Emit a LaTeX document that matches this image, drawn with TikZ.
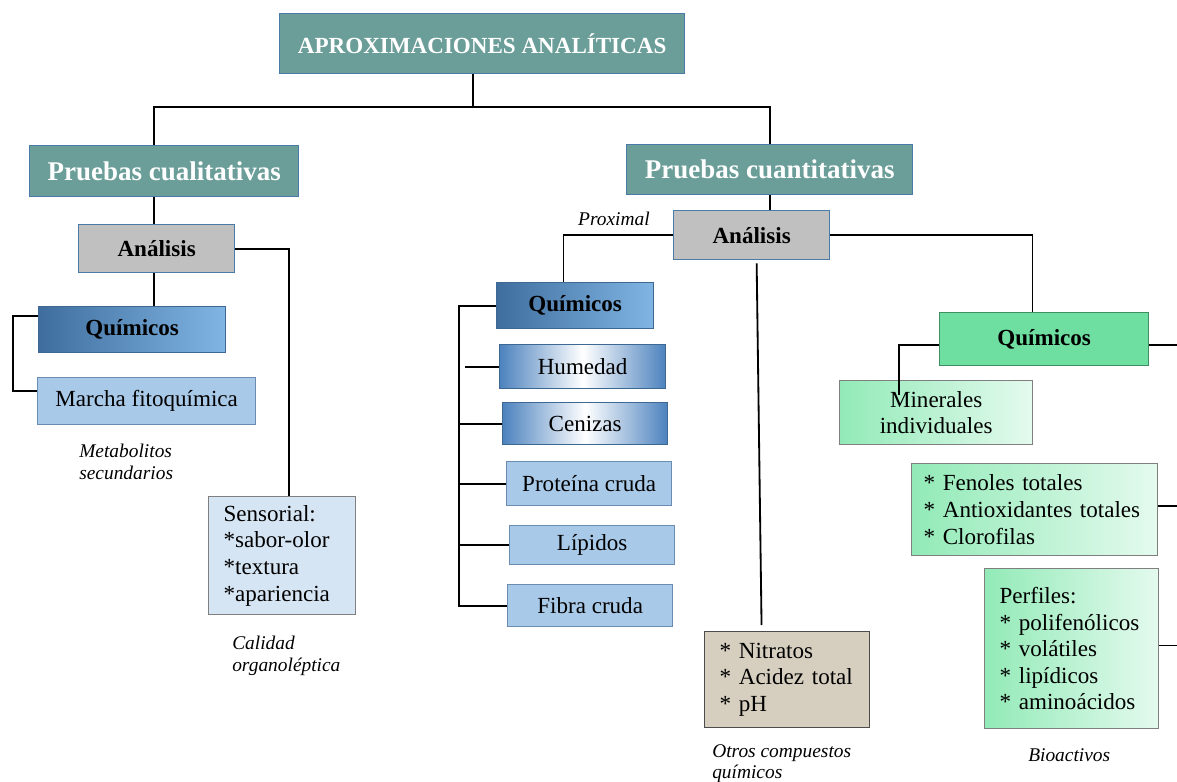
\documentclass[tikz,border=0pt]{standalone}
\usepackage{fontspec}
\setmainfont{Liberation Serif}
\usetikzlibrary{positioning}

\definecolor{tealhead}{HTML}{6B9E98}
\definecolor{boxblue}{HTML}{4A7BA8}
\definecolor{graybox}{HTML}{C0C0C0}
\definecolor{quimdark}{HTML}{3F6E9E}
\definecolor{quimlight}{HTML}{80B5E4}
\definecolor{quimborder}{HTML}{3D6893}
\definecolor{edgeblue}{HTML}{4C82BE}
\definecolor{paleblue}{HTML}{A9C9E8}
\definecolor{paleborder}{HTML}{6A8CB0}
\definecolor{sensblue}{HTML}{D6E5F4}
\definecolor{grayborder}{HTML}{7F7F7F}
\definecolor{tanbox}{HTML}{D6CFBF}
\definecolor{greenbox}{HTML}{6EDFA0}
\definecolor{greenborder}{HTML}{3F8F63}
\definecolor{mintdark}{HTML}{92EAB7}
\definecolor{mintlight}{HTML}{E4FAEE}

\begin{document}
\begin{tikzpicture}[
    x=0.025cm, y=-0.025cm,
    box/.style={rectangle, draw=boxblue, line width=0.9pt, inner sep=0pt, align=center, anchor=north west, font=\fontsize{16.4}{18.9}\selectfont},
    header/.style={box, fill=tealhead, text=white, font=\bfseries\fontsize{19.2}{22}\selectfont},
    analisis/.style={box, fill=graybox, font=\bfseries\fontsize{16.4}{18.9}\selectfont},
    quimblue/.style={box, draw=quimborder, left color=quimdark, right color=quimlight, font=\bfseries\fontsize{16.4}{18.9}\selectfont},
    gradblue/.style={box, draw=quimborder, left color=edgeblue, right color=edgeblue, middle color=white},
    plainbox/.style={box, draw=paleborder, fill=paleblue},
    listbox/.style={box, align=left, inner xsep=0.375cm},
    greenlist/.style={listbox, draw=grayborder, left color=mintdark, right color=mintlight},
    note/.style={inner sep=0pt, align=left, font=\itshape\fontsize{13.8}{15.4}\selectfont},
    link/.style={draw=black, line width=1.3pt}
]
\useasboundingbox (0,0) rectangle (1177,782);

% Title and headers
\node[header, font=\bfseries\fontsize{16.4}{19}\selectfont, minimum width=10.125cm, minimum height=1.5cm] (title) at (279,13) {APROXIMACIONES ANALÍTICAS};
\node[header, minimum width=6.725cm, minimum height=1.275cm] (qual) at (29,145) {Pruebas cualitativas};
\node[header, minimum width=7.15cm, minimum height=1.25cm] (quant) at (626,144) {Pruebas cuantitativas};

% Qualitative branch
\node[analisis, minimum width=3.9cm, minimum height=1.2cm] (anaL) at (78,224) {Análisis};
\node[quimblue, minimum width=4.675cm, minimum height=1.15cm] (quimL) at (38,306) {Químicos};
\node[plainbox, minimum width=5.45cm, minimum height=1.175cm] (marcha) at (37,377) {Marcha fitoquímica};
\node[listbox, draw=grayborder, fill=sensblue, text width=2.925cm, minimum height=2.95cm] (sens) at (208,496) {Sensorial:\\{*}sabor-olor\\{*}textura\\{*}apariencia};

% Proximal analysis
\node[analisis, minimum width=3.9cm, minimum height=1.225cm] (anaR) at (673,210) {Análisis};
\node[quimblue, minimum width=3.925cm, minimum height=1.15cm] (quimM) at (496,282) {Químicos};
\node[gradblue, minimum width=4.15cm, minimum height=1.1cm] (hum) at (499,344) {Humedad};
\node[gradblue, minimum width=4.125cm, minimum height=1.05cm] (cen) at (502,402) {Cenizas};
\node[plainbox, minimum width=4.125cm, minimum height=1.1cm] (prot) at (506,461) {Proteína cruda};
\node[plainbox, minimum width=4.125cm, minimum height=0.975cm] (lip) at (509,525) {Lípidos};
\node[plainbox, minimum width=4.125cm, minimum height=1.05cm] (fibra) at (507,584) {Fibra cruda};
\node[listbox, draw=black!70, fill=tanbox, text width=3.375cm, minimum height=2.4cm] (nitr) at (704,631) {{*} Nitratos\\{*} Acidez total\\{*} pH};

% Bioactive compounds
\node[box, draw=greenborder, fill=greenbox, font=\bfseries\fontsize{16.4}{18.9}\selectfont, minimum width=5.225cm, minimum height=1.325cm] (quimR) at (939,312) {Químicos};
\node[box, draw=grayborder, left color=mintdark, right color=mintlight, minimum width=4.825cm, minimum height=1.6cm] (miner) at (839,380) {Minerales\\individuales};
\node[greenlist, inner xsep=0.3cm, text width=5.55cm, minimum height=2.3cm] (fenol) at (911,463) {{*} Fenoles totales\\{*} Antioxidantes totales\\{*} Clorofilas};
\node[greenlist, text width=3.6cm, minimum height=4cm] (perf) at (984,568) {Perfiles:\\{*} polifenólicos\\{*} volátiles\\{*} lipídicos\\{*} aminoácidos};

% Notes
\node[note, anchor=base east] (proximal) at (650,225) {Proximal};
\node[note, anchor=north west] (metab) at (79,444) {Metabolitos\\secundarios};
\node[note, anchor=north west] (calidad) at (232,636) {Calidad\\organoléptica};
\node[note, anchor=north west] (otros) at (712,744) {Otros compuestos\\químicos};
\node[note, anchor=base west] (bioact) at (1028,761) {Bioactivos};

% Connectors
\coordinate (split) at (473,107);
\coordinate (lspine) at (154,107);
\coordinate (trunk) at (459,0);
\coordinate (sensdrop) at (289,0);
\coordinate (edge) at (1177,0);

\draw[link] (title.south -| split) -- (split);
\draw[link] (qual.north -| lspine) -- (lspine) -| (quant.north);
\draw[link] (qual.south -| lspine) -- (anaL.north -| lspine);
\draw[link] (anaL.south -| lspine) -- (quimL.north -| lspine);
\draw[link] (anaL.east) -| (sens.north -| sensdrop);
\draw[link] ([yshift=0.35cm]quimL.west) -- ++(-25,0) |- ([yshift=0.26cm]marcha.west);

\draw[link] (quant.south) -- (anaR.north -| quant.south);
\draw[link] (anaR.west) -| ([xshift=-0.29cm]quimM.north);
\draw[link] (quimM.west) -| (fibra.west -| trunk) -- (fibra.west);
\draw[link] ([xshift=-0.85cm]hum.west) -- (hum.west);
\foreach \b in {cen, prot, lip}
    \draw[link] (\b.west -| trunk) -- (\b.west);
\draw[link] ([xshift=0.125cm, yshift=-0.075cm]anaR.south) -- ([xshift=-0.64cm, yshift=0.15cm]nitr.north);

\draw[link] (anaR.east) -| ([xshift=-0.29cm]quimR.north);
\draw[link] ([yshift=-0.14cm]quimR.east) -- ([yshift=-0.14cm]quimR.east -| edge);
\draw[link] ([yshift=-0.14cm]quimR.west) -| ++(-40,50);
\draw[link] ([yshift=0.1cm]fenol.east) -- ([yshift=0.1cm]fenol.east -| edge);
\draw[link] ([yshift=0.08cm]perf.east) -- ([yshift=0.08cm]perf.east -| edge);

\end{tikzpicture}
\end{document}
